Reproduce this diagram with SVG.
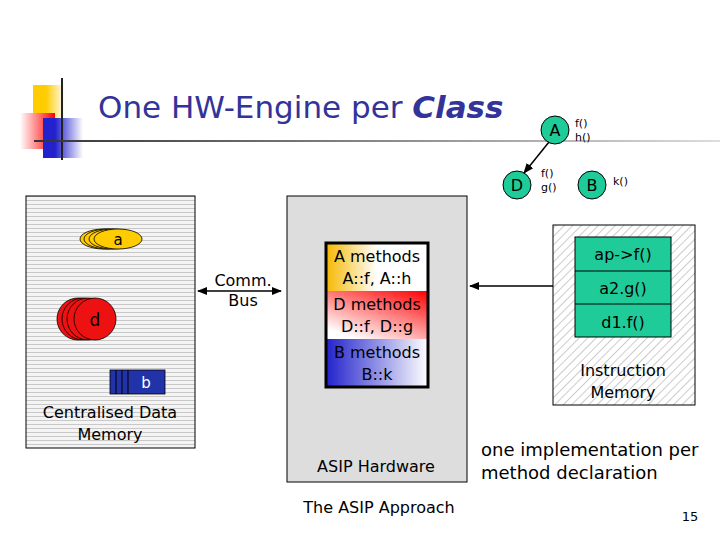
<svg xmlns="http://www.w3.org/2000/svg" width="720" height="540" viewBox="0 0 720 540">
<defs>
<linearGradient id="gy" x1="0" x2="1"><stop offset="0.4" stop-color="#ffcc00"/><stop offset="1" stop-color="#fff"/></linearGradient>
<linearGradient id="gr" x1="0" x2="1"><stop offset="0" stop-color="#fff"/><stop offset="1" stop-color="#f00"/></linearGradient>
<linearGradient id="gb" x1="0" x2="1"><stop offset="0.3" stop-color="#2222cc"/><stop offset="1" stop-color="#fff"/></linearGradient>
<linearGradient id="gl" gradientUnits="userSpaceOnUse" x1="34" y1="0" x2="720" y2="0"><stop offset="0" stop-color="#333"/><stop offset="1" stop-color="#ddd"/></linearGradient>
<linearGradient id="mA" x1="0" x2="1"><stop offset="0" stop-color="#f5b800"/><stop offset="0.5" stop-color="#fff"/></linearGradient>
<linearGradient id="mD" x1="1" x2="0.3" y1="0" y2="1"><stop offset="0" stop-color="#f00"/><stop offset="1" stop-color="#fff"/></linearGradient>
<linearGradient id="mB" x1="0" x2="1"><stop offset="0" stop-color="#2222cc"/><stop offset="1" stop-color="#fff"/></linearGradient>
<pattern id="stripe" width="6" height="4" patternUnits="userSpaceOnUse"><rect width="6" height="4" fill="#f4f4f4"/><rect width="6" height="1" fill="#c8c8c8"/></pattern>
<pattern id="hatch" width="6" height="6" patternUnits="userSpaceOnUse" patternTransform="rotate(-45)"><rect width="6" height="6" fill="#fff"/><rect width="6" height="1" fill="#ccc"/></pattern>
<marker id="ah" viewBox="0 0 10 10" refX="9" refY="5" markerWidth="7" markerHeight="7" orient="auto-start-reverse"><path d="M0,1 L10,5 L0,9 z" fill="#000"/></marker>
<style>
text{font-family:Tahoma,"DejaVu Sans",sans-serif;fill:#000}
.c{text-anchor:middle}
.cls{fill:#1fcc99;stroke:#000;stroke-width:1}
.y{fill:#ffcc00;stroke:#000;stroke-width:0.8}
.r{fill:#ee1111;stroke:#000;stroke-width:0.8}
.b{fill:#2233aa;stroke:#000;stroke-width:0.8}
</style>
</defs>
<g id="logo">
<rect x="33" y="85" width="32" height="33" fill="url(#gy)"/>
<rect x="20" y="113" width="35" height="36" fill="url(#gr)"/>
<rect x="43" y="118" width="40" height="40" fill="url(#gb)"/>
<line x1="62" y1="78" x2="62" y2="160" stroke="#222" stroke-width="2"/>
<rect x="34" y="140" width="686" height="2" fill="url(#gl)"/>
</g>
<text x="98" y="118" font-size="31" style="fill:#333399">One HW-Engine per <tspan font-weight="bold" font-style="italic">Class</tspan></text>
<g id="classA"><circle class="cls" cx="555" cy="130" r="14"/><text x="555" y="136" class="c" font-size="16">A</text><text x="575" y="127" font-size="11">f()</text><text x="575" y="141" font-size="11">h()</text></g>
<g id="classD"><circle class="cls" cx="517" cy="185" r="14"/><text x="517" y="191" class="c" font-size="16">D</text><text x="541" y="177" font-size="11">f()</text><text x="541" y="191" font-size="11">g()</text></g>
<g id="classB"><circle class="cls" cx="592" cy="185" r="14"/><text x="592" y="191" class="c" font-size="16">B</text><text x="613" y="185" font-size="11">k()</text></g>
<g id="dataMem">
<rect x="26" y="196" width="169" height="252" fill="url(#stripe)" stroke="#000"/>
<ellipse class="y" cx="104" cy="239" rx="24" ry="10"/><ellipse class="y" cx="108" cy="239" rx="24" ry="10"/><ellipse class="y" cx="113" cy="239" rx="24" ry="10"/><ellipse class="y" cx="118" cy="239" rx="24" ry="10"/>
<text x="118" y="245" class="c" font-size="15">a</text>
<circle class="r" cx="78" cy="319" r="21"/><circle class="r" cx="83" cy="319" r="21"/><circle class="r" cx="88" cy="319" r="21"/><circle class="r" cx="95" cy="319" r="21"/>
<text x="95" y="326" class="c" font-size="17">d</text>
<rect class="b" x="110" y="370" width="55" height="24"/><line x1="116" y1="370" x2="116" y2="394" stroke="#000"/><line x1="122" y1="370" x2="122" y2="394" stroke="#000"/><line x1="128" y1="370" x2="128" y2="394" stroke="#000"/>
<text x="146" y="388" class="c" font-size="15" style="fill:#fff">b</text>
<text x="110" y="418" class="c" font-size="16">Centralised Data</text>
<text x="110" y="440" class="c" font-size="16">Memory</text>
</g>
<g id="asip">
<rect x="287" y="196" width="180" height="286" fill="#ddd" stroke="#000"/>
<rect x="326" y="243" width="102" height="48" fill="url(#mA)"/>
<rect x="326" y="291" width="102" height="48" fill="url(#mD)"/>
<rect x="326" y="339" width="102" height="48" fill="url(#mB)"/>
<rect x="326" y="243" width="102" height="144" fill="none" stroke="#000" stroke-width="3"/>
<text x="377" y="262" class="c" font-size="16">A methods</text><text x="377" y="284" class="c" font-size="16">A::f, A::h</text>
<text x="377" y="310" class="c" font-size="16">D methods</text><text x="377" y="332" class="c" font-size="16">D::f, D::g</text>
<text x="377" y="358" class="c" font-size="16">B methods</text><text x="377" y="380" class="c" font-size="16">B::k</text>
<text x="376" y="472" class="c" font-size="16">ASIP Hardware</text>
</g>
<g id="instrMem">
<rect x="553" y="225" width="142" height="180" fill="url(#hatch)" stroke="#000"/>
<rect x="575" y="237" width="96" height="100" fill="#1fcc99" stroke="#000"/>
<line x1="575" y1="271" x2="671" y2="271" stroke="#000"/><line x1="575" y1="304" x2="671" y2="304" stroke="#000"/>
<text x="623" y="260" class="c" font-size="16">ap-&gt;f()</text>
<text x="623" y="294" class="c" font-size="16">a2.g()</text>
<text x="623" y="328" class="c" font-size="16">d1.f()</text>
<text x="623" y="376" class="c" font-size="16">Instruction</text>
<text x="623" y="398" class="c" font-size="16">Memory</text>
</g>
<g id="connectors">
<line x1="549" y1="142" x2="524" y2="173" stroke="#000" stroke-width="1.5" marker-end="url(#ah)"/>
<line x1="198" y1="291" x2="281" y2="291" stroke="#000" stroke-width="1.5" marker-start="url(#ah)" marker-end="url(#ah)"/>
<line x1="553" y1="286" x2="470" y2="286" stroke="#000" stroke-width="1.5" marker-end="url(#ah)"/>
</g>
<text x="243" y="286" class="c" font-size="16">Comm.</text>
<text x="243" y="306" class="c" font-size="16">Bus</text>
<text x="379" y="513" class="c" font-size="16">The ASIP Approach</text>
<text x="481" y="456" font-size="18">one implementation per</text>
<text x="481" y="479" font-size="18">method declaration</text>
<text x="690" y="521" class="c" font-size="13">15</text>
</svg>
